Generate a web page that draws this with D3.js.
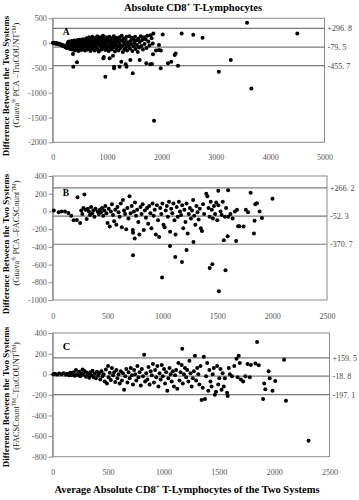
<!DOCTYPE html>
<html><head><meta charset="utf-8">
<script src="https://cdn.jsdelivr.net/npm/d3@7"></script>
<style>body{margin:0;background:#fff}svg{display:block}text{font-family:"Liberation Serif","Times New Roman",serif}</style>
</head><body><svg id="c" width="359" height="500"></svg>
<script>
// ---- data ----
const xTicksA = [0,1000,2000,3000,4000,5000];
const yTicksA = [500,0,-500,-1000,-1500,-2000];
const xTicksB = [0,500,1000,1500,2000,2500];
const yTicksB = [400,200,0,-200,-400,-600,-800,-1000];
const xTicksC = [0,500,1000,1500,2000,2500];
const yTicksC = [400,200,0,-200,-400,-600,-800];
const limitsA = [296.8,-79.5,-455.7];
const limitLabelsA = ["+296. 8","-79. 5","-455. 7"];
const limitsB = [266.2,-52.3,-370.7];
const limitLabelsB = ["+266. 2","-52. 3","-370. 7"];
const limitsC = [159.5,-18.8,-197.1];
const limitLabelsC = ["+159. 5","-18. 8","-197. 1"];

const pointsA = [
[5,5],[15,0],[25,8],[35,-3],[45,-8],[55,2],[65,-12],[75,-5],[85,-15],[95,-10],[105,-20],[115,-18],[125,-30],[135,-25],[145,-35],[155,-28],[165,-45],[175,-38],[185,-55],[195,-48],[205,-60],[215,-70],[225,-52],[235,-85],[245,-65],[255,-100],[265,-40],[275,-10],[285,20],[295,-75],
[305,30],[315,-20],[320,-95],[330,10],[340,-50],[350,40],[360,-130],[365,-10],[375,25],[385,-70],[395,50],[400,-30],[410,-150],[415,5],[425,-90],[435,35],[440,-120],[450,-40],[460,60],[465,-10],[475,-160],[480,20],[490,-60],[500,70],[505,-100],[515,0],[525,-140],[530,45],[540,-20],[550,-80],[555,80],[565,-120],[570,10],[580,-40],[590,55],[595,-150],
[605,30],[610,-70],[620,100],[625,-10],[635,-130],[640,60],[650,-50],[655,20],[665,-100],[670,120],[680,-20],[685,40],[695,-160],[700,80],[710,-60],[715,10],[725,-120],[730,130],[740,-30],[745,50],[755,-90],[760,100],[770,-10],[775,-150],[785,60],[790,-40],[800,110],[805,-80],[815,20],[820,140],[830,-120],[835,70],[845,-20],[850,-170],[860,90],[865,0],[875,-60],[880,120],[890,30],[895,-130],[905,-40],[910,80],[920,-100],[925,150],[935,10],[940,-70],[950,100],[955,-20],[965,-140],[970,50],[980,-50],[985,120],[995,-110],
[1005,20],[1010,90],[1020,-60],[1030,-160],[1035,40],[1045,130],[1050,-30],[1060,-100],[1070,60],[1075,0],[1085,-130],[1090,100],[1100,-50],[1110,20],[1120,-90],[1125,140],[1135,-10],[1145,-170],[1150,70],[1160,-40],[1170,110],[1180,-120],[1185,30],[1195,-70],[1205,80],[1210,-150],[1220,0],[1230,120],[1240,-40],[1250,-100],[1260,50],[1270,150],[1280,-60],[1290,-180],[1300,20],[1310,100],[1320,-130],[1330,-20],[1340,60],[1350,-80],[1360,130],[1370,-150],[1385,10],[1395,-50],
[1410,140],[1420,-110],[1430,40],[1445,-30],[1455,110],[1465,-160],[1480,70],[1490,-70],[1500,0],[1515,130],[1525,-120],[1540,50],[1550,-40],[1565,-180],[1575,90],[1590,-90],[1600,20],[1620,140],[1630,-60],[1645,60],[1660,-130],[1680,120],[1690,-20],[1710,80],[1725,-100],[1740,150],[1760,30],[1780,-50],[1800,160],[1820,100],[1840,-10],
[3575,410],[4500,195],[2757,107],[2586,168],[2372,195],[2023,175],[1852,195],[3276,-343],[3056,-578],[3655,-914],[1864,-1566],[968,-677],[379,-476],[447,-388],[373,-222],[318,-121],
[931,-307],[940,-280],[1048,-307],[1109,-254],[1128,-476],[1130,-508],[1232,-476],[1262,-375],[1343,-428],[1358,-476],[1428,-341],[1472,-609],[1600,-341],[1722,-408],[1796,-428],[1827,-420],[1845,-226],[1987,-508],[2121,-408],[2182,-375],[2244,-240],[2262,-210],[2305,-455],[1955,-38],[1955,-139],[1900,-150],[1990,-150]
];

const pointsB = [
[10,10],[54,-10],[80,0],[112,0],[143,-19],[169,-48],[190,-100],[220,-97],[250,-130],[226,160],[289,190],[260,10],[270,-30],[280,40],[310,-86],[300,20],[320,30],[330,0],[340,-40],[350,50],[360,-20],[370,10],[380,-60],[390,30],[410,0],[420,-30],[430,20],[440,-10],[450,40],[460,-50],[470,10],[480,60],[490,-20],[500,-130],[510,30],[520,-170],[530,0],[540,80],[550,-40],[560,-110],[570,20],[580,-150],[590,50],[600,-10],[610,-60],[620,90],[630,-180],[640,130],[650,10],[660,-30],[670,-200],[680,40],[690,-80],[700,170],[710,-20],[720,60],[730,-210],[740,0],[750,100],[760,-50],[770,20],[780,-120],[790,-260],[800,50],[810,-30],[820,80],[830,-210],[840,10],[850,-70],[860,40],[870,-140],[880,60],[890,-20],[900,-190],[910,90],[920,-50],[930,20],[940,-260],[950,70],[960,-100],[970,-290],[980,40],[990,-30],[1000,90],[1010,-150],[1020,-180],[1030,10],[1040,60],[1050,-60],[1060,110],[1070,-230],[1080,30],[1090,-20],[1100,90],[1110,-100],[1120,-260],[1130,50],[1140,-60],[1150,110],[1160,0],[1170,-40],[1180,70],[1190,-190],[1200,20],[1210,-120],[1220,90],[1230,-250],[1240,-30],[1250,40],[1260,-80],[1270,10],[1280,130],[1290,-50],[1300,-150],[1310,60],[1320,-10],[1330,-90],[1340,30],[1350,-190],[1360,-220],[1370,80],[1380,-30],[1400,200],[1410,170],[1420,40],[1430,-60],[1440,110],[1450,20],[1460,-80],[1470,60],[1480,-30],[1490,100],[1500,-100],[1510,70],[1530,0],[1540,-40],[1550,110],[1570,-60],[1580,40],[1600,-60],[1620,-30],[1640,-80],[1660,0],[1680,20],[1740,-170],[1760,20],[1780,-10],
[732,-242],[747,-305],[732,-495],[1515,-901],[997,-745],[1575,-663],[1431,-640],[1455,-596],[1117,-514],[1178,-570],[1069,-391],[1220,-436],[1283,-346],[1560,-325],[1595,-280],[1509,234],[1599,238],[1804,212],[2003,142],[1834,-250],[1672,-335],[1690,-168],[1702,-168],[1840,-104],[1846,82],[1861,93],[1886,0],[1907,-75]
];

const pointsC = [
[5,0],[20,5],[40,-3],[60,8],[80,0],[100,10],[120,-5],[130,5],[140,0],[150,-10],[160,15],[170,-8],[180,5],[190,20],[200,-15],[210,40],[220,0],[230,-10],[240,25],[250,-20],[260,10],[270,45],[280,-5],[290,30],[300,-25],[310,15],[320,0],[330,-35],[340,20],[350,-10],[360,35],[370,-30],[380,5],[390,-40],[400,25],[410,-15],[420,10],[430,-50],[440,30],[450,-20],[460,0],[470,-70],[480,45],[490,-90],[500,80],[505,-30],[515,15],[525,-55],[535,60],[545,-10],[555,20],[565,-75],[575,40],[585,-40],[595,0],[605,-90],[615,30],[625,-60],[635,10],[645,-150],[655,-20],[665,50],[675,-80],[685,20],[695,-40],[705,60],[715,-10],[725,-100],[735,40],[745,0],[755,-60],[765,80],[775,-30],[785,20],[795,-110],[805,50],[815,-20],[825,190],[835,-70],[845,10],[855,-50],[865,70],[875,-100],[885,30],[895,-10],[905,100],[915,-80],[925,40],[935,-30],[945,80],[955,-120],[965,10],[975,-50],[985,90],[995,-20],[1005,50],[1015,-90],[1025,20],[1035,-160],[1045,-40],[1055,60],[1065,0],[1075,-70],[1085,30],[1095,-120],[1105,-10],[1115,40],[1125,-140],[1135,110],[1145,-60],[1155,20],[1165,90],[1175,-90],[1185,0],[1195,60],[1205,-30],[1215,40],[1225,-70],[1235,130],[1245,10],[1255,-120],[1265,-40],[1275,30],[1285,180],[1295,-60],[1305,60],[1315,0],[1325,-100],[1335,80],[1345,-250],[1355,-130],[1365,170],[1375,-240],[1385,-20],[1395,110],[1405,-160],[1415,40],[1425,-70],[1435,-120],[1445,0],[1455,60],[1465,-200],[1475,-170],[1485,80],[1495,-100],[1505,-40],[1515,50],[1525,-150],[1535,10],[1545,-120],[1555,-40],[1575,-180],[1580,-210],[1590,60],[1600,0],[1620,-20],[1640,80],[1660,150],[1670,-30],[1680,180],[1690,110],[1700,-50],[1720,-70],[1740,-20],[1760,100],[1780,-30],[1790,90],
[1170,248],[1846,312],[1831,103],[1861,87],[2311,-646],[2107,-257],[2090,140],[1900,-240],[1910,-90],[1920,-145],[1950,30],[1960,-40],[1985,-160],[2010,-65]
];

// ---- drawing ----
const svg = d3.select("#c");
const gridCol = "#7a7a7a", frameCol = "#8a8a8a", tickCol = "#555";
const fmt = d => String(d);

function panel(cfg){
  const x = d3.scaleLinear().domain(cfg.xd).range([cfg.l, cfg.r]);
  const y = d3.scaleLinear().domain(cfg.yd).range([cfg.b, cfg.t]);
  const g = svg.append("g");
  g.append("rect").attr("x",cfg.l).attr("y",cfg.t).attr("width",cfg.r-cfg.l).attr("height",cfg.b-cfg.t)
    .attr("fill","none").attr("stroke",frameCol).attr("stroke-width",1);
  const ya = g.append("g").attr("transform",`translate(${cfg.l},0)`)
    .call(d3.axisLeft(y).tickValues(cfg.yt).tickFormat(fmt).tickSize(4).tickSizeOuter(0).tickPadding(2));
  ya.select(".domain").attr("stroke",frameCol);
  ya.selectAll(".tick line").attr("stroke",frameCol);
  ya.selectAll("text").attr("fill",tickCol).style("font-size","8px").style("font-family",'"Liberation Serif",serif');
  const xa = g.append("g").attr("transform",`translate(0,${cfg.b})`)
    .call(d3.axisBottom(x).tickValues(cfg.xt).tickFormat(fmt).tickSize(0).tickPadding(cfg.xpad));
  xa.select(".domain").remove();
  xa.selectAll("text").attr("fill",tickCol).style("font-size","8px").style("font-family",'"Liberation Serif",serif');
  g.selectAll(".lim").data(cfg.lim).enter().append("line")
    .attr("x1",cfg.l).attr("x2",cfg.r).attr("y1",d=>y(d)).attr("y2",d=>y(d))
    .attr("stroke",gridCol).attr("stroke-width",1.2);
  g.selectAll(".liml").data(cfg.lim).enter().append("text")
    .attr("x",cfg.r+3).attr("y",d=>y(d)+3).text((d,i)=>cfg.limLab[i])
    .attr("fill","#444").style("font-size","8px");
  g.selectAll("circle").data(cfg.pts).enter().append("circle")
    .attr("cx",d=>x(d[0])).attr("cy",d=>y(d[1])).attr("r",2).attr("fill","#000");
  g.append("text").attr("x",cfg.l+10).attr("y",cfg.lety).text(cfg.letter)
    .style("font-weight","bold").style("font-size",cfg.letsize+"px");
  g.append("text").attr("transform",`translate(9,${cfg.ty1}) rotate(-90)`).attr("text-anchor","middle")
    .style("font-weight","bold").style("font-size","9px").text("Difference Between the Two Systems");
  const t2 = g.append("text").attr("transform",`translate(18.5,${cfg.ty2}) rotate(-90)`).attr("text-anchor","middle")
    .style("font-size","8.4px").attr("fill","#222");
  cfg.sub.forEach(s=>{
    const ts = t2.append("tspan").text(s[0]);
    if(s[1]) ts.attr("baseline-shift","super").style("font-size","5.5px");
  });
}

panel({xd:[0,5000],yd:[-2000,500],l:52.7,r:324.5,t:18.3,b:142.3,xt:xTicksA,yt:yTicksA,xpad:12,
  lim:limitsA,limLab:limitLabelsA,pts:pointsA,letter:"A",lety:35,letsize:9.5,ty1:86,ty2:75,
  sub:[["(Guava"],["®",1],[" PCA \u2013TruCOUNT"],["TM",1],[")"]]});
panel({xd:[0,2500],yd:[-1000,400],l:52.7,r:327,t:176,b:300,xt:xTicksB,yt:yTicksB,xpad:13,
  lim:limitsB,limLab:limitLabelsB,pts:pointsB,letter:"B",lety:196,letsize:9.5,ty1:244,ty2:233,
  sub:[["(Guava"],["®",1],[" PCA \u2013FACSCount"],["TM",1],[")"]]});
panel({xd:[0,2500],yd:[-800,400],l:52.7,r:329.5,t:333,b:456.7,xt:xTicksC,yt:yTicksC,xpad:13,
  lim:limitsC,limLab:limitLabelsC,pts:pointsC,letter:"C",lety:350,letsize:10.5,ty1:397,ty2:396,
  sub:[["(FACSCount"],["TM",1],["\u2013TruCOUNT"],["TM",1],[")"]]});

const tt = svg.append("text").attr("x",193).attr("y",11).attr("text-anchor","middle")
  .style("font-weight","bold").style("font-size","10.5px");
tt.append("tspan").text("Absolute CD8");
tt.append("tspan").text("+").attr("baseline-shift","super").style("font-size","7px");
tt.append("tspan").text(" T-Lymphocytes");
const xt = svg.append("text").attr("x",187).attr("y",493).attr("text-anchor","middle")
  .style("font-weight","bold").style("font-size","10.5px");
xt.append("tspan").text("Average Absolute CD8");
xt.append("tspan").text("+").attr("baseline-shift","super").style("font-size","7px");
xt.append("tspan").text(" T-Lymphocytes of the Two Systems");
</script></body></html>
